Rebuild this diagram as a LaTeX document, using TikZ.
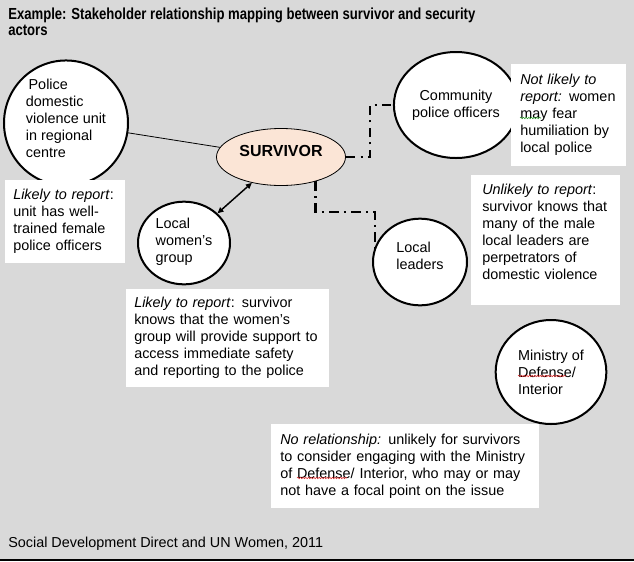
\documentclass[tikz,border=0pt]{standalone}
\usepackage{fontspec}
\setmainfont{Liberation Sans}
\newfontfamily\titlefont{Liberation Sans}[FakeStretch=0.82]
\usetikzlibrary{arrows.meta,shapes.geometric,decorations.pathmorphing}
\definecolor{SlideGrey}{HTML}{D9D9D9}
\definecolor{SurvivorPeach}{HTML}{FBE5D6}
\definecolor{SpellRed}{HTML}{E03030}
\definecolor{SpellGreen}{HTML}{30A030}
\newcommand\bodysize{\fontsize{10.8}{12.75}\selectfont}

\begin{document}
\begin{tikzpicture}[
  x=0.75pt,
  y=-0.75pt,
  font=\bodysize,
  actor/.style={ellipse, draw, line width=1.5pt, fill=white, align=left, inner sep=0pt},
  note/.style={fill=white, anchor=north west, align=left, inner ysep=0pt},
  linkdash/.style={line width=2pt, dash pattern=on 7pt off 4pt on 1.5pt off 4pt},
  spellmark/.style={line width=0.4pt, decorate, decoration={snake, amplitude=0.6pt, segment length=2pt}}
]
\fill[SlideGrey] (0,0) rectangle (634,561);
\useasboundingbox (0,0) rectangle (634,561);

% title and source
\node[anchor=north west, align=left, inner sep=0pt, font=\titlefont\bfseries\fontsize{12}{11.6}\selectfont] (title) at (8,8)
  {Example: Stakeholder relationship mapping between survivor and security\\actors};
\node[anchor=base west, inner sep=0pt] (source) at (8,547) {Social Development Direct and UN Women, 2011};

% actors
\node[actor, minimum width=93pt, minimum height=84pt, text depth=7.5pt] (police) at (66,123)
  {\hspace{2pt}Police\\domestic\\violence unit\\in regional\\centre};
\node[actor, fill=SurvivorPeach, line width=0.6pt, minimum width=96.75pt, minimum height=42.75pt, text depth=9pt, font=\bfseries\fontsize{12}{14}\selectfont] (survivor) at (281,157) {SURVIVOR};
\node[actor, minimum width=69pt, minimum height=62pt, text depth=4.5pt] (women) at (184,243) {Local\\women’s\\group};
\node[actor, align=center, minimum width=82.5pt, minimum height=79.5pt] (community) at (456,105) {Community\\police officers};
\node[actor, minimum width=70.5pt, minimum height=65pt, text depth=9pt] (leaders) at (420,262) {Local\\leaders};
\node[actor, minimum width=83pt, minimum height=78pt] (ministry) at (551,372) {Ministry of\\Defense/\\Interior};

% notes
\node[note, inner xsep=6pt, text width=78pt, minimum height=62pt] (police-note) at (5,180)
  {\textit{Likely to report}:\\unit has well-\\trained female\\police officers};
\node[note, inner xsep=6.75pt, text width=72.75pt, minimum height=76.5pt] (community-note) at (511,64)
  {{\itshape Not likely to}\\{\itshape report:} women\\may fear\\humiliation by\\local police};
\node[note, inner xsep=8.25pt, text width=95.25pt, minimum height=97.5pt, text depth=77pt] (leaders-note) at (471,175)
  {\textit{Unlikely to report}:\\survivor knows that\\many of the male\\local leaders are\\perpetrators of\\domestic violence};
\node[note, inner xsep=6pt, text width=140.25pt, minimum height=73.5pt] (women-note) at (126,289)
  {\textit{Likely to report}: survivor\\knows that the women’s\\group will provide support to\\access immediate safety\\and reporting to the police};
\node[note, inner xsep=6.75pt, text width=187.5pt, minimum height=63pt] (ministry-note) at (271,424)
  {\textit{No relationship:} unlikely for survivors\\to consider engaging with the Ministry\\of Defense/ Interior, who may or may\\not have a focal point on the issue};

% spelling marks
\draw[spellmark, SpellGreen] (520,118) -- (541,118);
\draw[spellmark, SpellRed] (518,376) -- (566,376);
\draw[spellmark, SpellRed] (297,478) -- (347,478);

% links
\draw[line width=0.6pt] (police) -- (survivor);
\draw[{Triangle[length=4.5pt,width=4pt]}-{Triangle[length=4.5pt,width=4pt]}, line width=1.1pt] (women) -- (survivor);
\coordinate (upper-bend) at (370,105);
\draw[linkdash] (survivor.east) -| (upper-bend) -- (community.west);
\coordinate (lower-bend) at (375,212);
\draw[linkdash] (survivor.-35) |- (lower-bend) -- (lower-bend |- leaders.165);

\draw[line width=1.5pt] (0,559.5) -- (634,559.5);
\end{tikzpicture}
\end{document}
